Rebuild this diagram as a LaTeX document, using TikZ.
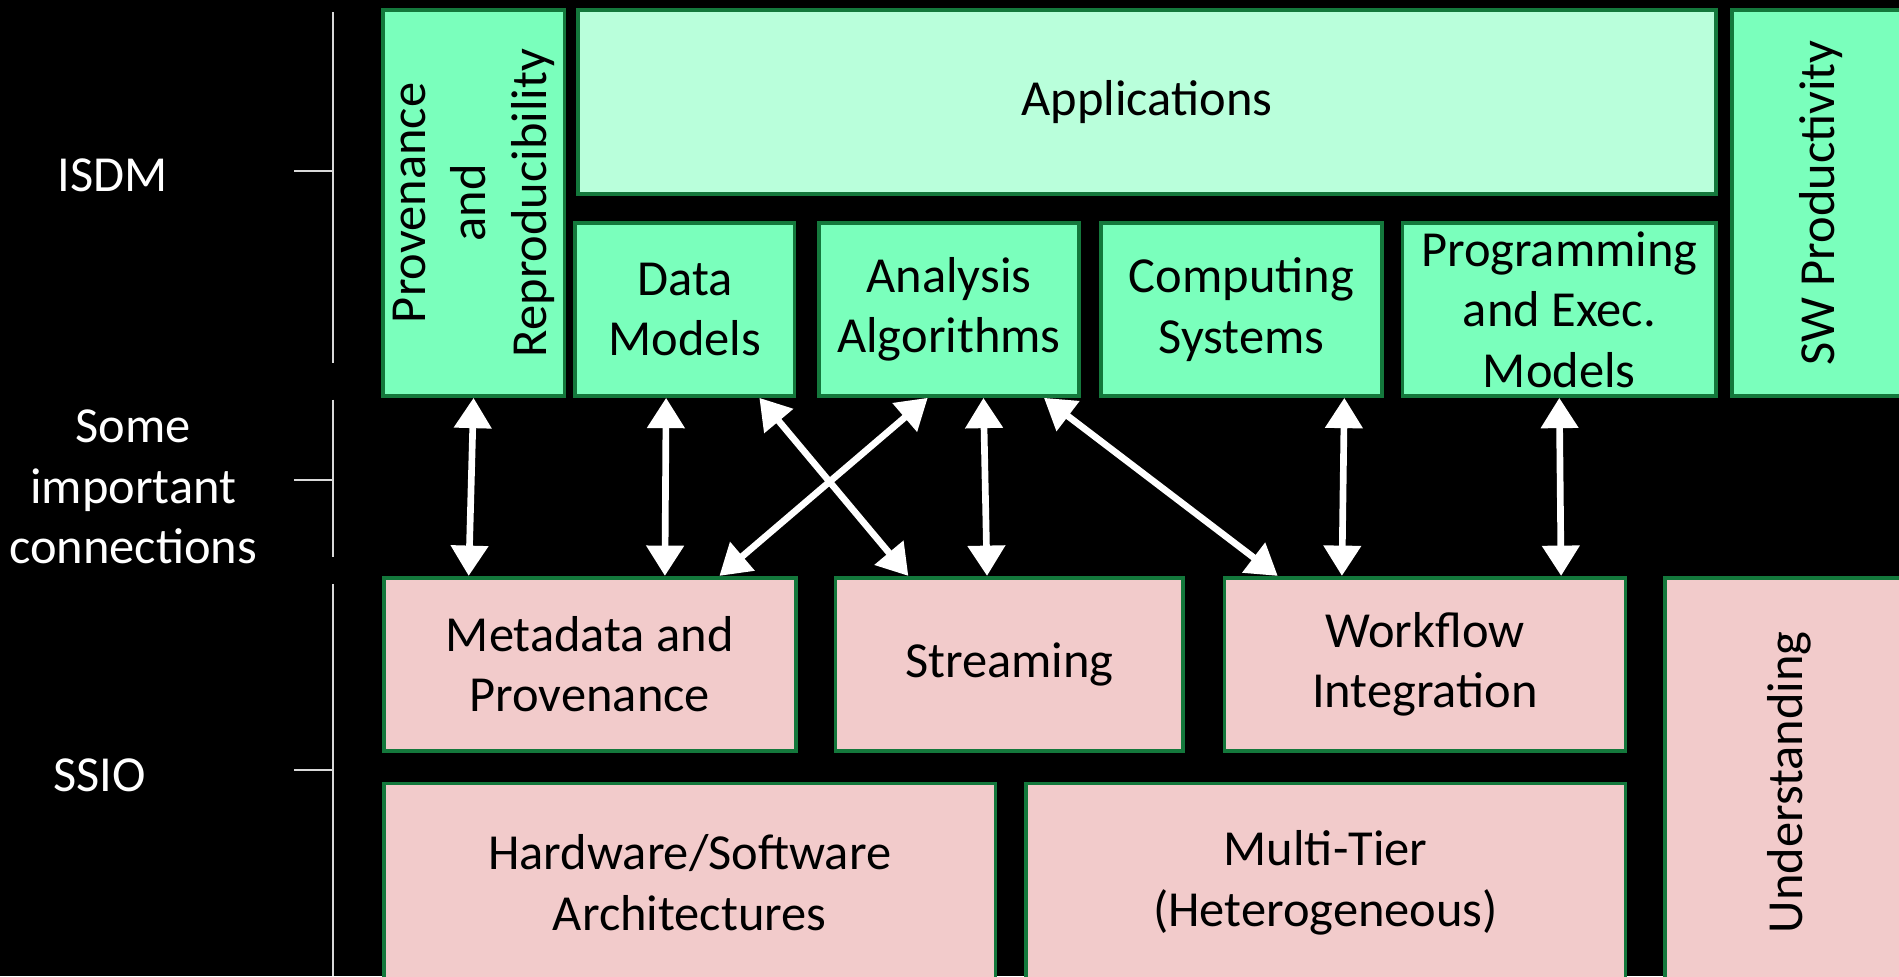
\documentclass[tikz,border=0pt]{standalone}
\usepackage{fontspec}
\setmainfont{Carlito}
\usepackage{graphicx}
\usetikzlibrary{arrows.meta, positioning}

\definecolor{boxgreen}{RGB}{122,255,188}
\definecolor{appgreen}{RGB}{185,255,219}
\definecolor{boxpink}{RGB}{242,203,203}
\definecolor{edgegreen}{RGB}{20,120,60}
\newcommand{\pxu}{0.6pt}
\newcommand{\vtext}[1]{\rotatebox{90}{\begin{tabular}{@{}c@{}}#1\end{tabular}}}

\begin{document}
\begin{tikzpicture}[
      x=0.6pt, y=-0.6pt,
      font=\fontsize{25}{30}\selectfont,
      blk/.style 2 args={rectangle, draw=edgegreen, line width=1.8pt, align=center, inner sep=0pt, minimum width=#1*\pxu, minimum height=#2*\pxu},
      isdm/.style={fill=boxgreen},
      app/.style={fill=appgreen},
      ssio/.style={fill=boxpink},
      layer/.style={text=white, align=center},
      rule/.style={draw=white!85!black, line width=0.9pt},
      link/.style={{Triangle[width=18pt,length=15pt]}-{Triangle[width=18pt,length=15pt]}, white, line width=3.3pt}
    ]

    \fill[black] (0,0) rectangle (1568,806);
    \useasboundingbox (0,0) rectangle (1568,806);
    \clip (0,0) rectangle (1568,806);

    % Layer labels
    \node[layer] (isdmlbl) at (93,145) {ISDM};
    \node[layer] (connlbl) at (110,402) {Some\\important\\connections};
    \node[layer] (ssiolbl) at (82,640) {SSIO};

    \draw[rule] (275,10) -- (275,300);
    \draw[rule] (243,141) -- (275,141);
    \draw[rule] (275,330) -- (275,460);
    \draw[rule] (243,396) -- (275,396);
    \draw[rule] (275,482) -- (275,806);
    \draw[rule] (243,636) -- (275,636);

    % ISDM
    \node[blk={148}{319}, isdm] (prov) at (391,167.5) {\vtext{Provenance\\and\\Reproducibility}};
    \node[blk={940}{152}, app] (apps) at (947,84) {Applications};
    \node[blk={181}{143}, isdm] (data) at (565.5,255.5) {Data\\Models};
    \node[blk={215}{143}, isdm, right=10.2pt of data] (algo) {Analysis\\Algorithms};
    \node[blk={232}{143}, isdm, right=9pt of algo] (comp) {Computing\\Systems};
    \node[blk={259}{143}, isdm, right=8.4pt of comp] (prog) {Programming\\and Exec.\\Models};
    \node[blk={150}{319}, isdm] (swprod) at (1505,167.5) {\vtext{SW Productivity}};

    % SSIO
    \node[blk={340}{143}, ssio] (meta) at (487,548.5) {Metadata and\\Provenance};
    \node[blk={287}{143}, ssio, right=18pt of meta] (strm) {Streaming};
    \node[blk={331}{143}, ssio, right=18.6pt of strm] (work) {Workflow\\Integration};
    \node[blk={206}{338}, ssio] (undr) at (1478,646) {\vtext{Understanding}};
    \node[blk={505}{164}, ssio] (hw) at (569.5,729) {Hardware/Software\\Architectures};
    \node[blk={495}{164}, ssio, right=13.2pt of hw] (tier) {Multi-Tier\\(Heterogeneous)};

    % Connections
    \draw[link] (prov.south) -- ([xshift=-60pt]meta.north);
    \draw[link] ([xshift=-9.3pt]data.south) -- ([xshift=37.2pt]meta.north);
    \draw[link] ([xshift=36.9pt]data.south) -- ([xshift=-50.1pt]strm.north);
    \draw[link] ([xshift=-10.5pt]algo.south) -- ([xshift=64.2pt]meta.north);
    \draw[link] ([xshift=17.1pt]algo.south) -- ([xshift=-11.1pt]strm.north);
    \draw[link] ([xshift=47.1pt]algo.south) -- ([xshift=-72.9pt]work.north);
    \draw[link] ([xshift=51pt]comp.south) -- ([xshift=-41.1pt]work.north);
    \draw[link] (prog.south) -- ([xshift=67.5pt]work.north);

    \end{tikzpicture}
\end{document}
